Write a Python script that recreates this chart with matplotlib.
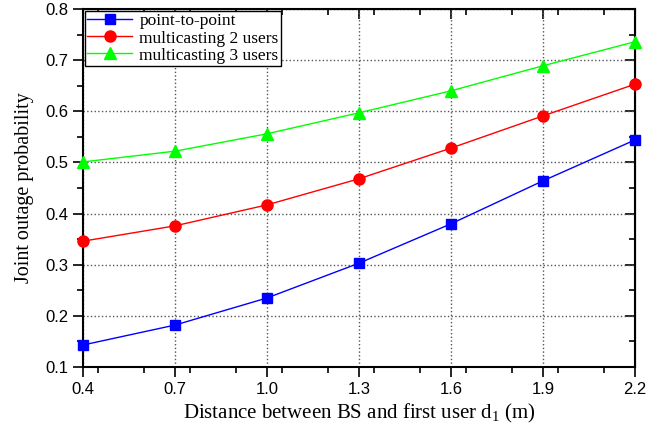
import matplotlib.pyplot as plt
from matplotlib.ticker import MultipleLocator

distance = [0.4, 0.7, 1.0, 1.3, 1.6, 1.9, 2.2]
p2p = [0.143, 0.182, 0.235, 0.303, 0.380, 0.464, 0.544]
multi2 = [0.346, 0.376, 0.417, 0.468, 0.528, 0.591, 0.653]
multi3 = [0.501, 0.522, 0.556, 0.597, 0.640, 0.689, 0.736]

fig = plt.figure(figsize=(6.67, 4.3), dpi=100)
ax = fig.add_axes([83/667, 1-367/430, (635-83)/667, (367-9)/430])

ax.plot(distance, p2p, color='#0000ff', marker='s', markersize=7, lw=1, label='point-to-point', clip_on=False, zorder=3)
ax.plot(distance, multi2, color='#ff0000', marker='o', markersize=8, lw=1, label='multicasting 2 users', clip_on=False, zorder=3)
ax.plot(distance, multi3, color='#00ff00', marker='^', markersize=8, lw=1, label='multicasting 3 users', clip_on=False, zorder=3)

ax.set_xlim(0.4, 2.2)
ax.set_ylim(0.1, 0.8)
ax.set_xticks(distance)
ax.set_xticklabels(['%.1f' % d for d in distance])
ax.xaxis.set_minor_locator(MultipleLocator(0.15))
ax.yaxis.set_major_locator(MultipleLocator(0.1))
ax.yaxis.set_minor_locator(MultipleLocator(0.05))
ax.set_yticklabels(['%.1f' % v for v in ax.get_yticks()])

ax.grid(True, which='major', linestyle=':', color='#555555', lw=1)
ax.set_axisbelow(True)

for s in ax.spines.values():
    s.set_linewidth(1.5)

tickfont = 'Liberation Sans'
ax.tick_params(which='both', direction='out', top=False, right=False, width=1.2, labelsize=12)
ax.tick_params(which='major', length=7)
ax.tick_params(which='minor', length=4)
for lab in ax.get_xticklabels() + ax.get_yticklabels():
    lab.set_fontfamily(tickfont)

ax2 = ax.secondary_xaxis('top')
ax2.set_xticks(distance)
ax2.xaxis.set_minor_locator(MultipleLocator(0.15))
ax2.tick_params(which='both', direction='in', labeltop=False, width=1.2)
ax2.tick_params(which='major', length=7)
ax2.tick_params(which='minor', length=4)
ax3 = ax.secondary_yaxis('right')
ax3.yaxis.set_major_locator(MultipleLocator(0.1))
ax3.yaxis.set_minor_locator(MultipleLocator(0.05))
ax3.tick_params(which='both', direction='in', labelright=False, width=1.2)
ax3.tick_params(which='major', length=7)
ax3.tick_params(which='minor', length=4)

ax.set_xlabel(r'Distance between BS and first user d$_\mathregular{1}$ (m)', fontfamily='Liberation Serif', fontsize=15, labelpad=4)
ax.set_ylabel('Joint outage probability', fontfamily='Liberation Serif', fontsize=14.5, labelpad=8)

leg = ax.legend(loc='upper left', prop={'family': 'Liberation Serif', 'size': 12.5}, fancybox=False,
                edgecolor='black', framealpha=1, borderaxespad=0.1, handlelength=2.6,
                labelspacing=0.05, borderpad=0.15, handletextpad=0.4)
leg.get_frame().set_linewidth(1)

plt.savefig('out.png', dpi=100)
